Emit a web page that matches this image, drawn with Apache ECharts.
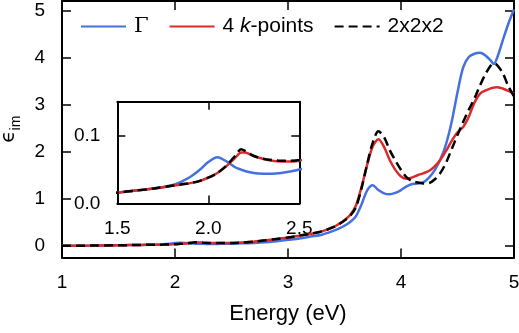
<!DOCTYPE html>
<html>
<head>
<meta charset="utf-8">
<script src="https://cdn.jsdelivr.net/npm/echarts@6/dist/echarts.min.js"></script>
<style>
  html, body { margin: 0; padding: 0; background: #fff; }
  #chart { width: 519px; height: 333px; }
</style>
</head>
<body>
<div id="chart"></div>
<script>
// photon energy (eV)
const energy = [1.0, 1.25, 1.5, 1.6, 1.7, 1.8, 1.85, 1.9, 1.95, 2.0, 2.05, 2.1, 2.15, 2.18, 2.2,
  2.25, 2.3, 2.35, 2.4, 2.45, 2.5, 2.6, 2.7, 2.8, 2.9, 3.0, 3.1, 3.2, 3.3, 3.4, 3.45, 3.5, 3.55,
  3.6, 3.65, 3.7, 3.75, 3.8, 3.85, 3.9, 3.95, 4.0, 4.05, 4.1, 4.15, 4.2, 4.25, 4.3, 4.35, 4.4,
  4.45, 4.5, 4.55, 4.6, 4.65, 4.7, 4.75, 4.8, 4.82, 4.85, 4.9, 4.95, 5.0];

// imaginary part of dielectric function
const gammaVals = [0.003, 0.008, 0.016, 0.019, 0.022, 0.027, 0.032, 0.039, 0.049, 0.061, 0.068, 0.062, 0.053, 0.050, 0.048,
  0.045, 0.044, 0.044, 0.045, 0.047, 0.050, 0.056, 0.066, 0.08, 0.10, 0.13, 0.16, 0.20, 0.24, 0.32, 0.37, 0.43, 0.51,
  0.63, 0.88, 1.18, 1.29, 1.19, 1.12, 1.10, 1.13, 1.19, 1.27, 1.32, 1.33, 1.36, 1.46, 1.62, 1.85, 2.18,
  2.66, 3.27, 3.80, 4.02, 4.09, 4.11, 4.05, 3.93, 3.87, 4.00, 4.37, 4.73, 5.03];

const k4Vals = [0.003, 0.008, 0.016, 0.019, 0.022, 0.026, 0.028, 0.030, 0.033, 0.038, 0.045, 0.055, 0.068, 0.075, 0.075,
  0.070, 0.066, 0.063, 0.062, 0.062, 0.063, 0.075, 0.095, 0.12, 0.15, 0.18, 0.22, 0.26, 0.31, 0.40, 0.47, 0.55, 0.66,
  0.85, 1.25, 1.72, 2.12, 2.27, 2.11, 1.83, 1.62, 1.48, 1.43, 1.46, 1.51, 1.55, 1.60, 1.70, 1.84, 2.03,
  2.24, 2.42, 2.53, 2.75, 3.05, 3.24, 3.31, 3.36, 3.37, 3.38, 3.35, 3.30, 3.24];

const k222Vals = [0.003, 0.008, 0.016, 0.019, 0.022, 0.026, 0.028, 0.030, 0.033, 0.038, 0.045, 0.056, 0.071, 0.080, 0.078,
  0.070, 0.066, 0.064, 0.063, 0.063, 0.064, 0.075, 0.095, 0.12, 0.15, 0.18, 0.22, 0.26, 0.31, 0.40, 0.46, 0.54, 0.64,
  0.82, 1.22, 1.74, 2.20, 2.44, 2.32, 2.04, 1.82, 1.62, 1.46, 1.38, 1.35, 1.33, 1.34, 1.42, 1.56, 1.78,
  2.07, 2.36, 2.64, 2.90, 3.14, 3.42, 3.67, 3.86, 3.89, 3.85, 3.68, 3.40, 3.18];

const seriesNames = ['Γ', '4 k-points', '2x2x2'];
const mainYTicks = [0, 1, 2, 3, 4, 5];
const insetYTicks = [0, 0.1];

const pairs = vals => energy.map((e, i) => [e, vals[i]]);

const FONT = 'Liberation Sans';
const BLUE = '#4470e0';
const RED = '#dc2a2a';

const chart = echarts.init(document.getElementById('chart'));

function frameAxis(extra) {
  return Object.assign({
    type: 'value',
    axisLine: { show: true, onZero: false, lineStyle: { color: '#000', width: 2 } },
    axisTick: { show: true, inside: true, length: 9, lineStyle: { color: '#000', width: 1.5 } },
    axisLabel: { show: false },
    splitLine: { show: false }
  }, extra);
}

const tickLabel = { show: true, color: '#000', fontFamily: FONT, fontSize: 19 };
const insetTick = { show: true, inside: true, length: 8, lineStyle: { color: '#000', width: 1.5 } };

function makeSeries(name, vals, color, dashed, xi, yi) {
  return {
    name: name,
    type: 'line',
    xAxisIndex: xi,
    yAxisIndex: yi,
    data: pairs(vals),
    smooth: 0.3,
    symbol: 'none',
    clip: true,
    lineStyle: { color: color, width: 2.5, type: dashed ? [9, 5] : 'solid' },
    itemStyle: { color: color }
  };
}

chart.setOption({
  animation: false,
  backgroundColor: '#fff',
  legend: {
    left: 80,
    top: 16,
    padding: 0,
    itemWidth: 45,
    itemHeight: 22,
    itemGap: 20,
    data: seriesNames,
    itemStyle: { opacity: 0 },
    formatter: function (name) {
      if (name === 'Γ') return '{g|Γ}';
      if (name === '4 k-points') return '4 {k|k}-points';
      return name;
    },
    textStyle: {
      color: '#000', fontFamily: FONT, fontSize: 21, padding: [0, 0, 0, 3],
      rich: {
        g: { fontFamily: 'DejaVu Serif', fontSize: 21, color: '#000' },
        k: { fontFamily: FONT, fontStyle: 'italic', fontSize: 21, color: '#000' }
      }
    }
  },
  grid: [
    { left: 62, top: 1, width: 452, height: 256.5, outerBoundsMode: 'none' },
    { left: 117.3, top: 101.7, width: 182, height: 101.8, outerBoundsMode: 'none',
      show: true, backgroundColor: '#fff', borderWidth: 0 }
  ],
  xAxis: [
    frameAxis({
      gridIndex: 0, position: 'bottom', min: 1, max: 5, interval: 1,
      axisLabel: Object.assign({ margin: 16 }, tickLabel),
      name: 'Energy (eV)', nameLocation: 'middle', nameGap: 45,
      nameTextStyle: { color: '#000', fontFamily: FONT, fontSize: 22 }
    }),
    frameAxis({ gridIndex: 0, position: 'top', min: 1, max: 5, interval: 1 }),
    frameAxis({
      gridIndex: 1, position: 'bottom', min: 1.5, max: 2.5, interval: 0.5,
      axisTick: insetTick,
      axisLabel: Object.assign({ margin: 16, formatter: v => v.toFixed(1) }, tickLabel)
    }),
    frameAxis({ gridIndex: 1, position: 'top', min: 1.5, max: 2.5, interval: 0.5, axisTick: insetTick })
  ],
  yAxis: [
    frameAxis({
      gridIndex: 0, position: 'left', min: -0.245, max: 5.213,
      axisTick: { show: true, inside: true, length: 9, customValues: mainYTicks, lineStyle: { color: '#000', width: 1.5 } },
      axisLabel: Object.assign({ margin: 17, customValues: mainYTicks }, tickLabel),
      name: '{e|ϵ}{s|im}', nameLocation: 'middle', nameGap: 37, nameRotate: 90,
      nameTextStyle: {
        color: '#000',
        rich: {
          e: { fontFamily: 'DejaVu Sans', fontSize: 20, lineHeight: 30, verticalAlign: 'middle', color: '#000' },
          s: { fontFamily: FONT, fontSize: 14, verticalAlign: 'bottom', color: '#000' }
        }
      }
    }),
    frameAxis({
      gridIndex: 0, position: 'right', min: -0.245, max: 5.213,
      axisTick: { show: true, inside: true, length: 9, customValues: mainYTicks, lineStyle: { color: '#000', width: 1.5 } }
    }),
    frameAxis({
      gridIndex: 1, position: 'left', min: 0, max: 0.15,
      axisTick: Object.assign({ customValues: insetYTicks }, insetTick),
      axisLabel: Object.assign({ margin: 17, customValues: insetYTicks, formatter: v => v.toFixed(1) }, tickLabel)
    }),
    frameAxis({
      gridIndex: 1, position: 'right', min: 0, max: 0.15,
      axisTick: Object.assign({ customValues: insetYTicks }, insetTick)
    })
  ],
  series: [
    makeSeries(seriesNames[0], gammaVals, BLUE, false, 0, 0),
    makeSeries(seriesNames[1], k4Vals, RED, false, 0, 0),
    makeSeries(seriesNames[2], k222Vals, '#000', true, 0, 0),
    makeSeries(seriesNames[0], gammaVals, BLUE, false, 2, 2),
    makeSeries(seriesNames[1], k4Vals, RED, false, 2, 2),
    makeSeries(seriesNames[2], k222Vals, '#000', true, 2, 2)
  ]
});
</script>
</body>
</html>
